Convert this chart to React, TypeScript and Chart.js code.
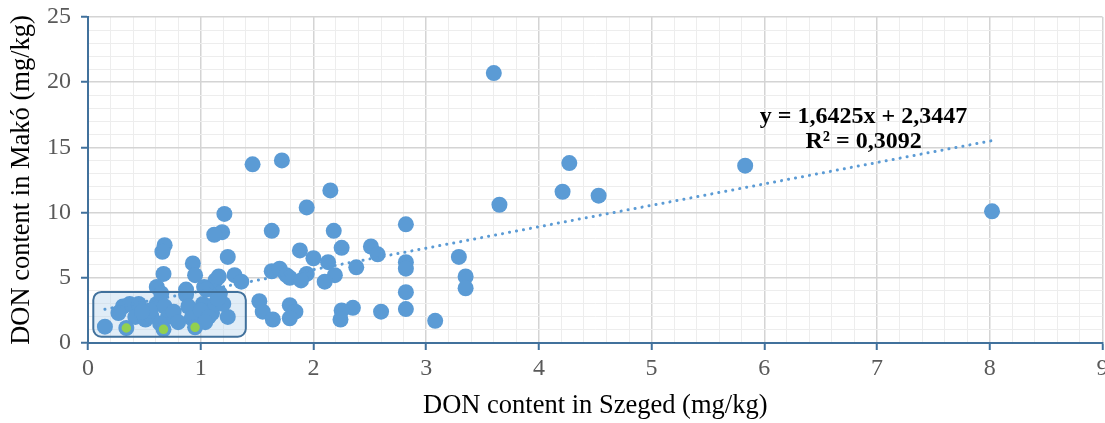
import { useEffect, useRef } from "react";
import { Chart, registerables } from "chart.js";

Chart.register(...registerables);

// DON content (mg/kg) of paired samples: Szeged on x, Makó on y
const szegedValues = [
  3.6, 1.46, 1.72, 2.15, 1.94, 1.21, 1.19, 1.12, 1.63, 2.18, 2.82, 4.27, 4.21, 4.53, 3.65, 5.83, 8.02,
  0.68, 0.66, 1.24, 1.88, 2.0, 2.13, 2.25, 2.51, 2.57, 2.82, 2.82, 3.29, 3.35, 3.35, 2.82, 2.82, 2.6,
  2.35, 2.25, 2.24, 3.08, 2.19, 2.38, 1.63, 1.7, 1.76, 1.79, 1.94, 1.89, 2.1, 1.3, 1.36, 1.13, 1.52,
  1.55, 1.64, 1.79, 1.84, 1.79, 1.24, 0.67, 0.61, 0.93, 0.95, 0.87, 1.03, 1.16, 0.15, 0.31, 0.37, 0.45,
  0.27, 0.42, 0.51, 0.56, 0.61, 0.65, 0.68, 0.71, 0.64, 0.87, 0.89, 0.92, 1.02, 1.05, 1.1, 1.13, 1.17,
  1.2, 0.34, 0.67, 0.95, 0.55, 0.76, 1.0, 1.07, 1.15, 0.48, 0.8, 1.04,
];
const makoValues = [
  20.7, 13.7, 14.0, 11.7, 10.4, 9.9, 8.5, 8.3, 8.6, 8.6, 9.1, 13.8, 11.6, 11.3, 10.6, 13.6, 10.1,
  7.5, 7.0, 6.6, 7.1, 6.5, 6.2, 7.3, 7.4, 6.8, 6.2, 5.7, 6.6, 5.1, 4.2, 3.9, 2.6, 2.4,
  2.7, 2.5, 1.8, 1.7, 5.2, 5.8, 5.5, 5.7, 5.2, 5.0, 5.3, 4.8, 4.7, 5.2, 4.7, 4.8, 3.2,
  2.4, 1.8, 2.9, 2.4, 1.9, 2.0, 5.3, 4.3, 6.1, 5.2, 4.1, 4.3, 5.1, 1.25, 2.8, 3.0, 3.0,
  2.3, 2.0, 1.8, 2.1, 3.0, 3.8, 2.8, 2.0, 1.5, 3.7, 2.8, 1.9, 3.0, 4.1, 2.3, 3.0, 3.8,
  3.0, 1.15, 1.05, 1.2, 2.5, 2.4, 2.5, 2.0, 3.4, 2.4, 1.6, 1.6,
];

// highlighted samples (green)
const highlightSzeged = [0.34, 0.67, 0.95];
const highlightMako = [1.15, 1.05, 1.2];

// linear trend line and its labels
const trendSlope = 1.6425;
const trendIntercept = 2.3447;
const trendLabels = ["y = 1,6425x + 2,3447", "R² = 0,3092"];

// axis ranges
const xRange = [0, 9];
const yRange = [0, 25];

// framed low-concentration region (Szeged range, Makó range)
const lowRegionSzeged = [0.047, 1.4];
const lowRegionMako = [0.48, 3.92];

const BLUE = "#5B9BD5";
const AXIS = "#41719C";
const SERIF = "'Liberation Serif', 'Times New Roman', serif";

const isWhole = (v: number, step: number) => Math.abs(v / step - Math.round(v / step)) < 1e-6;

const overlayPlugin = {
  id: "overlay",
  beforeDatasetsDraw(chart: any) {
    const { ctx, scales } = chart;
    const l = scales.x.getPixelForValue(lowRegionSzeged[0]);
    const r = scales.x.getPixelForValue(lowRegionSzeged[1]);
    const t = scales.y.getPixelForValue(lowRegionMako[1]);
    const b = scales.y.getPixelForValue(lowRegionMako[0]);
    ctx.save();
    ctx.beginPath();
    ctx.roundRect(l, t, r - l, b - t, 8);
    ctx.fillStyle = "rgba(189, 215, 238, 0.45)";
    ctx.fill();
    ctx.restore();
  },
  afterDatasetsDraw(chart: any) {
    const { ctx, scales } = chart;
    const l = scales.x.getPixelForValue(lowRegionSzeged[0]);
    const r = scales.x.getPixelForValue(lowRegionSzeged[1]);
    const t = scales.y.getPixelForValue(lowRegionMako[1]);
    const b = scales.y.getPixelForValue(lowRegionMako[0]);
    ctx.save();
    ctx.beginPath();
    ctx.roundRect(l, t, r - l, b - t, 8);
    ctx.strokeStyle = AXIS;
    ctx.lineWidth = 2;
    ctx.stroke();

    // trend equation
    const cx = scales.x.getPixelForValue(6.88);
    ctx.fillStyle = "#000";
    ctx.font = `bold 24px ${SERIF}`;
    ctx.textAlign = "center";
    ctx.textBaseline = "middle";
    ctx.fillText(trendLabels[0], cx, scales.y.getPixelForValue(17.33));
    ctx.fillText(trendLabels[1], cx, scales.y.getPixelForValue(15.4));
    ctx.restore();
  },
};

export default function App() {
  const canvasRef = useRef<HTMLCanvasElement>(null);

  useEffect(() => {
    document.body.style.margin = "0";
    document.body.style.overflow = "hidden";
    const canvas = canvasRef.current;
    if (!canvas) return;

    const minX = Math.min(...szegedValues);
    const maxX = Math.max(...szegedValues);

    const chart = new Chart(canvas, {
      type: "scatter",
      data: {
        datasets: [
          {
            label: "trend",
            type: "line",
            data: [
              { x: minX, y: trendSlope * minX + trendIntercept },
              { x: maxX, y: trendSlope * maxX + trendIntercept },
            ],
            borderColor: BLUE,
            borderWidth: 3,
            borderDash: [0.1, 7],
            borderCapStyle: "round",
            pointRadius: 0,
            fill: false,
            order: 0,
          } as any,
          {
            label: "highlight",
            data: highlightSzeged.map((x, i) => ({ x, y: highlightMako[i] })),
            backgroundColor: "#92D050",
            borderColor: BLUE,
            borderWidth: 2.5,
            pointRadius: 6,
            order: 1,
          },
          {
            label: "samples",
            data: szegedValues.map((x, i) => ({ x, y: makoValues[i] })),
            backgroundColor: BLUE,
            borderWidth: 0,
            pointRadius: 8,
            order: 2,
          },
        ],
      },
      options: {
        responsive: false,
        animation: false,
        layout: { padding: { top: 17, right: 0, left: 0, bottom: 0 } },
        plugins: { legend: { display: false }, tooltip: { enabled: false } },
        scales: {
          x: {
            type: "linear",
            min: xRange[0],
            max: xRange[1],
            afterFit: (s: any) => {
              s.height = 80;
              s.paddingLeft = 0;
              s.paddingRight = 0;
            },
            afterBuildTicks: (s: any) => {
              const ticks = [];
              for (let i = 0; i <= (xRange[1] - xRange[0]) * 5; i++) ticks.push({ value: xRange[0] + i * 0.2 });
              s.ticks = ticks;
            },
            ticks: {
              autoSkip: false,
              maxRotation: 0,
              padding: 4,
              color: "#595959",
              font: { family: SERIF, size: 24 },
              callback: (v: any) => (isWhole(Number(v), 1) ? String(Math.round(Number(v))) : ""),
            },
            grid: {
              color: (c: any) => (isWhole(c.tick.value, 1) ? "#D4D4D4" : "#EDEDED"),
              lineWidth: (c: any) => (isWhole(c.tick.value, 1) ? 1.5 : 1),
              tickColor: (c: any) => (isWhole(c.tick.value, 1) ? AXIS : "rgba(0,0,0,0)"),
              tickLength: 7,
              tickWidth: 2,
            },
            border: { color: AXIS, width: 2 },
            title: {
              display: true,
              text: "DON content in Szeged (mg/kg)",
              color: "#000",
              font: { family: SERIF, size: 26.5, lineHeight: 1.2 },
              padding: { top: 0, bottom: 1 },
            },
          },
          y: {
            type: "linear",
            min: yRange[0],
            max: yRange[1],
            afterFit: (s: any) => {
              s.width = 88;
              s.paddingTop = 0;
              s.paddingBottom = 0;
            },
            afterBuildTicks: (s: any) => {
              const ticks = [];
              for (let i = yRange[0]; i <= yRange[1]; i++) ticks.push({ value: i });
              s.ticks = ticks;
            },
            ticks: {
              autoSkip: false,
              padding: 10,
              color: "#595959",
              font: { family: SERIF, size: 24 },
              callback: (v: any) => (isWhole(Number(v), 5) ? String(Math.round(Number(v))) : ""),
            },
            grid: {
              color: (c: any) => (isWhole(c.tick.value, 5) ? "#D4D4D4" : "#EDEDED"),
              lineWidth: (c: any) => (isWhole(c.tick.value, 5) ? 1.5 : 1),
              tickColor: (c: any) => (isWhole(c.tick.value, 5) ? AXIS : "rgba(0,0,0,0)"),
              tickLength: 7,
              tickWidth: 2,
            },
            border: { color: AXIS, width: 2 },
            title: {
              display: true,
              text: "DON content in Makó (mg/kg)",
              color: "#000",
              font: { family: SERIF, size: 26.5, lineHeight: 1.2 },
              padding: { top: 6, bottom: 0 },
            },
          },
        },
      },
      plugins: [overlayPlugin],
    });

    return () => chart.destroy();
  }, []);

  return (
    <div style={{ width: 1105, height: 423, overflow: "hidden" }}>
      <canvas ref={canvasRef} width={1111} height={423} />
    </div>
  );
}
